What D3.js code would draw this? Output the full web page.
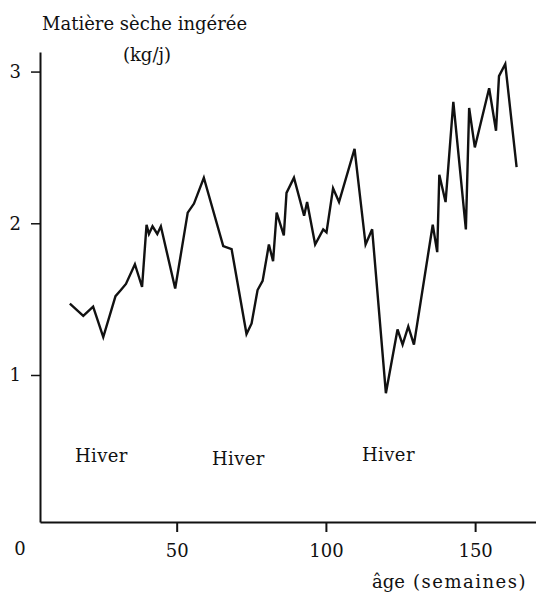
<!DOCTYPE html>
<html>
<head>
<meta charset="utf-8">
<script src="https://cdn.jsdelivr.net/npm/d3@7"></script>
<style>
  body { margin: 0; background: #fff; }
  svg text { font-family: "DejaVu Serif", "Liberation Serif", serif; fill: #111; }
</style>
</head>
<body>
<div id="chart"></div>
<script>
// weeks of age
const weeks = [14.2, 18.7, 22.0, 25.4, 29.5, 31.3, 33.0, 36.0, 38.4, 39.9,
    40.7, 41.9, 43.5, 44.7, 49.5, 53.7, 55.8, 59.1, 65.6, 68.4,
    73.4, 75.1, 77.1, 78.8, 80.9, 82.3, 83.5, 85.9, 86.8, 89.3,
    92.7, 93.7, 96.4, 99.1, 100.2, 102.4, 104.4, 109.6, 113.3, 115.5,
    120.1, 124.0, 125.7, 127.6, 129.5, 135.8, 137.3, 138.0, 140.1, 142.7,
    146.9, 148.0, 149.9, 154.7, 157.0, 158.0, 160.1, 163.9];
// dry matter intake kg/day
const intake = [1.47, 1.39, 1.45, 1.25, 1.52, 1.56, 1.60, 1.73, 1.58, 1.99,
    1.93, 1.98, 1.93, 1.98, 1.57, 2.07, 2.13, 2.30, 1.85, 1.83,
    1.27, 1.34, 1.56, 1.62, 1.86, 1.75, 2.07, 1.92, 2.20, 2.30,
    2.05, 2.14, 1.86, 1.96, 1.94, 2.23, 2.14, 2.49, 1.86, 1.96,
    0.88, 1.30, 1.20, 1.32, 1.20, 1.99, 1.81, 2.32, 2.14, 2.80,
    1.96, 2.76, 2.50, 2.89, 2.61, 2.97, 3.05, 2.37];

const xTicks = [50, 100, 150];
const yTicks = [1, 2, 3];
// winter labels: start week and height
const winterWeeks = [15.9, 61.8, 112.1];
const winterValues = [0.427, 0.407, 0.433];

const width = 536, height = 595;

const svg = d3.select("#chart").append("svg")
    .attr("width", width)
    .attr("height", height);

const x = d3.scaleLinear().domain([4.2, 170.4]).range([40, 536]);
const y = d3.scaleLinear().domain([0.031, 3.129]).range([522, 52]);

// X axis
const xAxis = svg.append("g")
    .attr("transform", `translate(0,${y(0.031)})`)
    .call(d3.axisBottom(x).tickValues(xTicks).tickSize(10).tickSizeOuter(0).tickPadding(12));
xAxis.select(".domain").attr("stroke", "#111").attr("stroke-width", 2);
xAxis.selectAll(".tick line").attr("stroke", "#111").attr("stroke-width", 2);
xAxis.selectAll(".tick text").attr("font-size", 18).style("font-family", "DejaVu Serif");

// origin label
svg.append("text")
    .attr("x", 20)
    .attr("y", 555)
    .attr("text-anchor", "middle")
    .attr("font-size", 18)
    .text("0");

// Y axis
const yAxis = svg.append("g")
    .attr("transform", `translate(${x(4.2)},0)`)
    .call(d3.axisLeft(y).tickValues(yTicks).tickFormat(d3.format("d"))
        .tickSize(9).tickSizeOuter(0).tickPadding(10));
yAxis.select(".domain").attr("stroke", "#111").attr("stroke-width", 2);
yAxis.selectAll(".tick line").attr("stroke", "#111").attr("stroke-width", 1.5);
yAxis.selectAll(".tick text").attr("font-size", 18).style("font-family", "DejaVu Serif");

// the curve
const line = d3.line()
    .x((d, i) => x(weeks[i]))
    .y(d => y(d));

svg.append("path")
    .datum(intake)
    .attr("fill", "none")
    .attr("stroke", "#111")
    .attr("stroke-width", 2.4)
    .attr("stroke-linejoin", "miter")
    .attr("d", line);

// Hiver labels
svg.selectAll("text.hiver")
    .data(winterWeeks)
    .enter()
    .append("text")
    .attr("class", "hiver")
    .attr("x", d => x(d))
    .attr("y", (d, i) => y(winterValues[i]))
    .attr("font-size", 18)
    .attr("letter-spacing", 0.4)
    .text("Hiver");

// titles
svg.append("text")
    .attr("x", 42)
    .attr("y", 30)
    .attr("font-size", 18)
    .text("Matière sèche ingérée");

svg.append("text")
    .attr("x", 147)
    .attr("y", 61)
    .attr("text-anchor", "middle")
    .attr("font-size", 18)
    .text("(kg/j)");

svg.append("text")
    .attr("x", 372)
    .attr("y", 588)
    .attr("font-size", 18)
    .text("âge");

svg.append("text")
    .attr("x", 413)
    .attr("y", 588)
    .attr("font-size", 18)
    .attr("letter-spacing", 1.5)
    .text("(semaines)");
</script>
</body>
</html>
